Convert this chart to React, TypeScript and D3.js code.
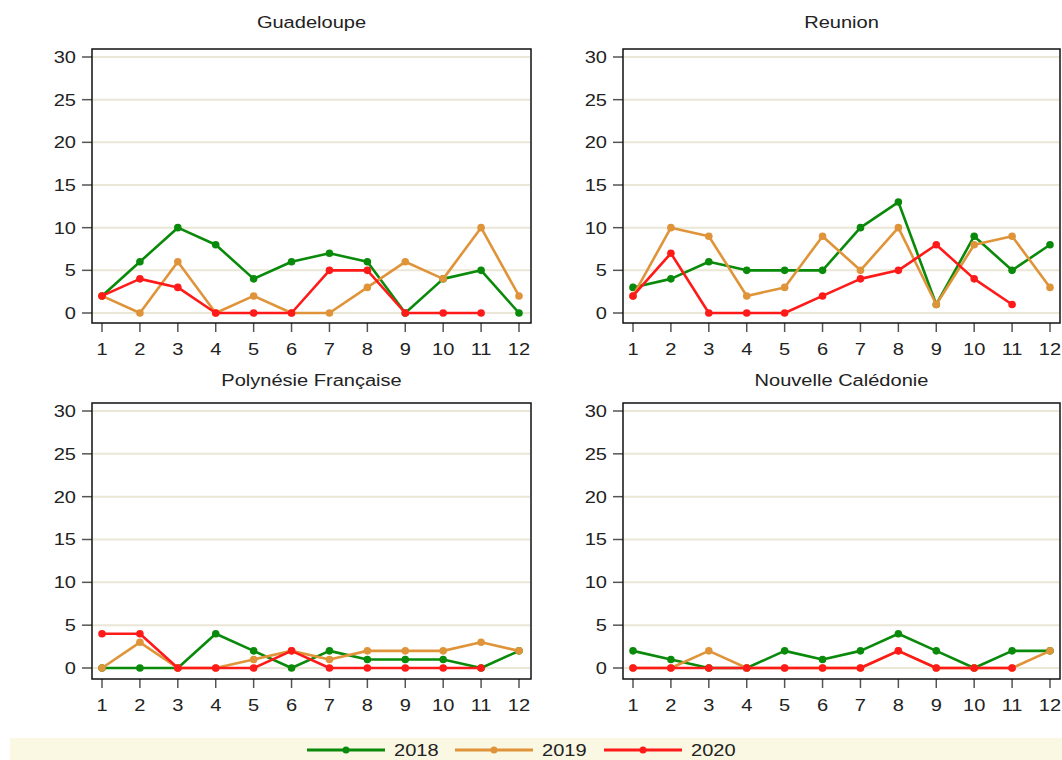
import React from "react";
import * as d3 from "d3";

const months = [1, 2, 3, 4, 5, 6, 7, 8, 9, 10, 11, 12];
const yTicks = [0, 5, 10, 15, 20, 25, 30];
const years = ["2018", "2019", "2020"];
const colors = ["#0a8a0a", "#e0943a", "#ff1a1a"];

const panelTitles = ["Guadeloupe", "Reunion", "Polynésie Française", "Nouvelle Calédonie"];

const guadeloupe2018 = [2, 6, 10, 8, 4, 6, 7, 6, 0, 4, 5, 0];
const guadeloupe2019 = [2, 0, 6, 0, 2, 0, 0, 3, 6, 4, 10, 2];
const guadeloupe2020 = [2, 4, 3, 0, 0, 0, 5, 5, 0, 0, 0];

const reunion2018 = [3, 4, 6, 5, 5, 5, 10, 13, 1, 9, 5, 8];
const reunion2019 = [2, 10, 9, 2, 3, 9, 5, 10, 1, 8, 9, 3];
const reunion2020 = [2, 7, 0, 0, 0, 2, 4, 5, 8, 4, 1];

const polynesie2018 = [0, 0, 0, 4, 2, 0, 2, 1, 1, 1, 0, 2];
const polynesie2019 = [0, 3, 0, 0, 1, 2, 1, 2, 2, 2, 3, 2];
const polynesie2020 = [4, 4, 0, 0, 0, 2, 0, 0, 0, 0, 0];

const caledonie2018 = [2, 1, 0, 0, 2, 1, 2, 4, 2, 0, 2, 2];
const caledonie2019 = [0, 0, 2, 0, 0, 0, 0, 2, 0, 0, 0, 2];
const caledonie2020 = [0, 0, 0, 0, 0, 0, 0, 2, 0, 0, 0];

const panelData = [
  [guadeloupe2018, guadeloupe2019, guadeloupe2020],
  [reunion2018, reunion2019, reunion2020],
  [polynesie2018, polynesie2019, polynesie2020],
  [caledonie2018, caledonie2019, caledonie2020],
];

const FONT = "'Liberation Sans', Arial, sans-serif";
const SX = 1.18;

type Layout = { fl: number; fr: number; ft: number; fb: number; x1: number; x12: number; y0: number; y30: number; titleY: number };

const layouts: Layout[] = [
  { fl: 92, fr: 531, ft: 49, fb: 323, x1: 102, x12: 519, y0: 313, y30: 57, titleY: 28 },
  { fl: 623, fr: 1060, ft: 49, fb: 323, x1: 633, x12: 1050, y0: 313, y30: 57, titleY: 28 },
  { fl: 92, fr: 531, ft: 403, fb: 679, x1: 102, x12: 519, y0: 668, y30: 411, titleY: 386 },
  { fl: 623, fr: 1060, ft: 403, fb: 679, x1: 633, x12: 1050, y0: 668, y30: 411, titleY: 386 },
];

function T({ x, y, anchor, dy, children }: { x: number; y: number; anchor?: string; dy?: string; children: React.ReactNode }) {
  return (
    <text
      transform={`translate(${x},${y}) scale(${SX},1)`}
      dy={dy}
      textAnchor={anchor || "start"}
      fontSize={17}
      fontFamily={FONT}
      fill="#222"
    >
      {children}
    </text>
  );
}

function Panel({ idx }: { idx: number }) {
  const L = layouts[idx];
  const x = d3.scaleLinear().domain([1, 12]).range([L.x1, L.x12]);
  const y = d3.scaleLinear().domain([0, 30]).range([L.y0, L.y30]);
  const line = d3
    .line<number>()
    .x((_, i) => x(months[i]))
    .y((v) => y(v));
  return (
    <g>
      <T x={(L.fl + L.fr) / 2} y={L.titleY} anchor="middle">
        {panelTitles[idx]}
      </T>
      <rect x={L.fl} y={L.ft} width={L.fr - L.fl} height={L.fb - L.ft} fill="#fff" />
      {yTicks.map((t) => (
        <g key={t}>
          <line x1={L.fl + 1} x2={L.fr - 1} y1={y(t)} y2={y(t)} stroke="#ebe7d6" strokeWidth={2} />
          <line x1={L.fl - 10} x2={L.fl} y1={y(t)} y2={y(t)} stroke="#555" strokeWidth={1.5} />
          <T x={L.fl - 16} y={y(t)} dy="0.35em" anchor="end">
            {t}
          </T>
        </g>
      ))}
      {months.map((m) => (
        <g key={m}>
          <line x1={x(m)} x2={x(m)} y1={L.fb} y2={L.fb + 9} stroke="#555" strokeWidth={1.5} />
          <T x={x(m)} y={L.fb + 32} anchor="middle">
            {m}
          </T>
        </g>
      ))}
      {panelData[idx].map((series, si) => (
        <g key={si}>
          <path d={line(series) || ""} fill="none" stroke={colors[si]} strokeWidth={2.6} strokeLinejoin="round" />
          {series.map((v, i) => (
            <circle key={i} cx={x(months[i])} cy={y(v)} r={3.8} fill={colors[si]} />
          ))}
        </g>
      ))}
      <rect x={L.fl} y={L.ft} width={L.fr - L.fl} height={L.fb - L.ft} fill="none" stroke="#111" strokeWidth={1.5} />
    </g>
  );
}

function Legend() {
  const starts = [307, 455, 604];
  return (
    <g>
      <rect x={10} y={738} width={1052} height={22} fill="#faf7e2" />
      {years.map((yr, i) => (
        <g key={yr}>
          <line x1={starts[i]} x2={starts[i] + 78} y1={750} y2={750} stroke={colors[i]} strokeWidth={3} />
          <circle cx={starts[i] + 39} cy={750} r={3.5} fill={colors[i]} />
          <T x={starts[i] + 87} y={750} dy="0.35em">
            {yr}
          </T>
        </g>
      ))}
    </g>
  );
}

export default function App() {
  return (
    <svg width={1062} height={760} style={{ position: "absolute", left: 0, top: 0, background: "#fff" }}>
      <rect x={0} y={0} width={1062} height={760} fill="#fff" />
      {[0, 1, 2, 3].map((i) => (
        <Panel key={i} idx={i} />
      ))}
      <Legend />
    </svg>
  );
}
